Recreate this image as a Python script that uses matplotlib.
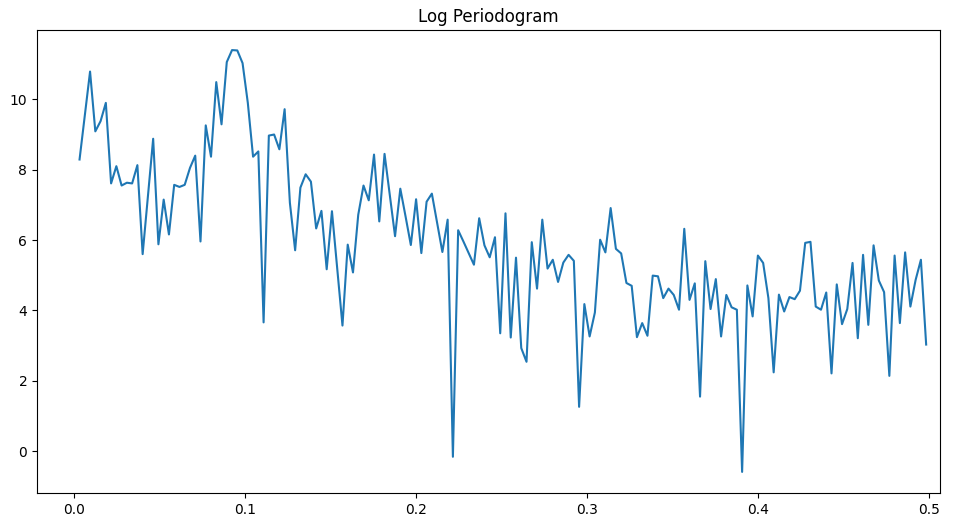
import numpy as np
import matplotlib.pyplot as plt

# log periodogram values (one per Fourier frequency k/325)
log_pgram = [
    8.29, 9.53, 10.79, 9.09, 9.38, 9.90, 7.61, 8.10, 7.55, 7.63,
    7.61, 8.13, 5.60, 7.24, 8.88, 5.88, 7.15, 6.16, 7.57, 7.51,
    7.57, 8.05, 8.40, 5.96, 9.26, 8.37, 10.49, 9.29, 11.06, 11.40,
    11.39, 11.03, 9.90, 8.37, 8.52, 3.66, 8.97, 9.00, 8.58, 9.72,
    7.06, 5.71, 7.49, 7.87, 7.66, 6.33, 6.83, 5.17, 6.82, 5.19,
    3.57, 5.87, 5.08, 6.72, 7.55, 7.13, 8.43, 6.53, 8.45, 7.29,
    6.11, 7.46, 6.67, 5.86, 7.16, 5.63, 7.09, 7.32, 6.49, 5.66,
    6.58, -0.16, 6.28, 5.96, 5.63, 5.30, 6.62, 5.85, 5.51, 6.08,
    3.35, 6.76, 3.23, 5.50, 2.93, 2.54, 5.94, 4.62, 6.58, 5.19,
    5.44, 4.81, 5.36, 5.58, 5.41, 1.26, 4.18, 3.26, 3.94, 6.01,
    5.65, 6.91, 5.75, 5.62, 4.78, 4.70, 3.24, 3.64, 3.28, 4.99,
    4.97, 4.35, 4.62, 4.44, 4.02, 6.32, 4.30, 4.77, 1.55, 5.40,
    4.04, 4.89, 3.26, 4.44, 4.09, 4.02, -0.59, 4.71, 3.83, 5.56,
    5.35, 4.35, 2.24, 4.45, 3.97, 4.38, 4.32, 4.56, 5.92, 5.95,
    4.11, 4.02, 4.51, 2.21, 4.74, 3.61, 4.04, 5.35, 3.21, 5.58,
    3.59, 5.85, 4.85, 4.52, 2.14, 5.56, 3.64, 5.65, 4.11, 4.87,
    5.44, 3.03,
]
n_obs = 325
freq = np.arange(1, len(log_pgram) + 1) / n_obs

fig = plt.figure(figsize=(9.77, 5.26), dpi=100)
ax = fig.add_axes([0.0379, 0.0627, 0.9243, 0.8802])
ax.plot(freq, log_pgram)
ax.set_title("Log Periodogram")
ax.set_xlim(-0.0218, 0.5066)
ax.set_ylim(-1.19, 11.97)

fig.savefig("out.png", dpi=100)
